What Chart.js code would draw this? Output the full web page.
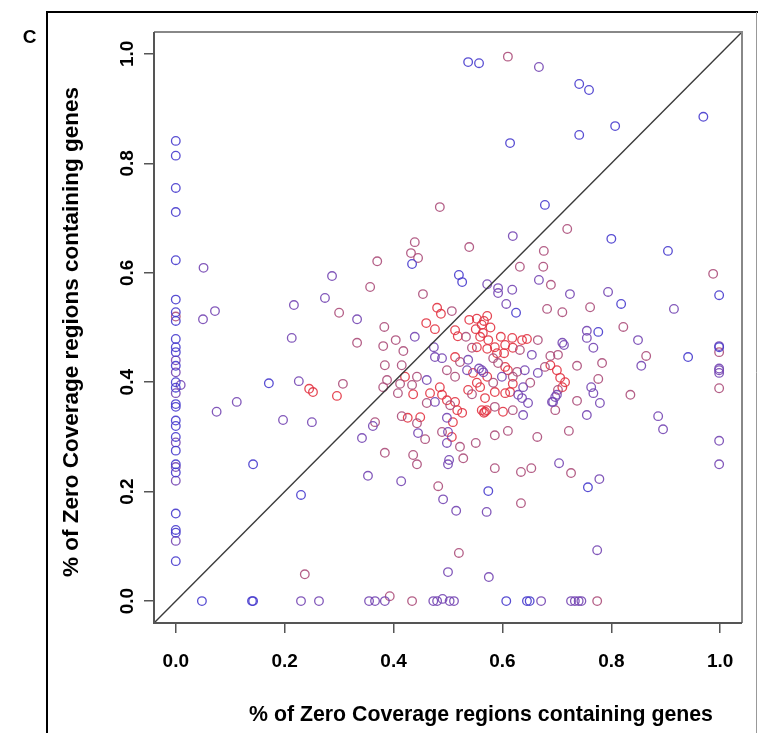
<!DOCTYPE html>
<html>
<head>
<title>Zero coverage regions containing genes</title>
<script src="https://cdn.jsdelivr.net/npm/chart.js"></script>
<style>
  html, body {margin:0; padding:0; background:#fff;}
  #wrap {width:758px; height:733px;}
</style>
</head>
<body>
<div id="wrap"><canvas id="myChart" width="758" height="733"></canvas></div>
<script>
// axis setup
var tickVals = [0, 0.2, 0.4, 0.6, 0.8, 1.0];
var axisMin = -0.04, axisMax = 1.04;
var panelLetter = 'C';
var xTitle = '% of Zero Coverage regions containing genes';
var yTitle = '% of Zero Coverage regions containing genes';

// points, grouped by colour shade (blue -> red)
var bluePts = [
  [0,0.841],[0,0.814],[0,0.755],[0,0.711],[0,0.623],[0,0.551],[0,0.528],[0,0.512],[0,0.479],[0,0.464],
  [0,0.455],[0,0.43],[0,0.40],[0,0.39],[0,0.36],[0,0.355],[0,0.33],[0,0.32],[0,0.30],[0,0.275],
  [0,0.25],[0,0.235],[0,0.16],[0,0.13],[0,0.125],[0,0.073],
  [0.537,0.985],[0.557,0.983],[0.741,0.945],[0.759,0.934],[0.969,0.885],[0.807,0.868],[0.741,0.852],
  [0.614,0.837],[0.678,0.724],[0.800,0.662],[0.904,0.640],[0.434,0.616],[0.998,0.559],[0.520,0.596],
  [0.526,0.583],[0.818,0.543],[0.998,0.464],[0.625,0.527],[0.776,0.492],[0.941,0.446],
  [0.171,0.398],[0.142,0.250],[0.230,0.194],
  [0.048,0],[0.14,0],[0.142,0],[0.607,0],[0.645,0],[0.65,0],
  [0.757,0.208],[0.574,0.201]
];
var violetPts = [
  [0,0.44],[0,0.418],[0,0.38],[0,0.29],[0,0.245],[0,0.22],[0,0.11],[0.009,0.395],
  [0.667,0.976],[0.619,0.667],[0.572,0.579],[0.592,0.572],[0.592,0.563],[0.618,0.569],[0.667,0.587],
  [0.724,0.561],[0.794,0.565],[0.915,0.534],[0.607,0.543],[0.755,0.494],[0.755,0.481],[0.849,0.477],
  [0.710,0.472],[0.713,0.468],[0.767,0.463],
  [0.051,0.609],[0.050,0.515],[0.072,0.530],[0.217,0.541],[0.213,0.481],[0.287,0.594],[0.274,0.554],
  [0.333,0.515],[0.075,0.346],[0.112,0.364],[0.226,0.402],[0.197,0.331],[0.250,0.327],[0.342,0.298],
  [0.362,0.320],[0.353,0.229],
  [0.23,0],[0.263,0],[0.355,0],[0.366,0],[0.384,0],[0.473,0],[0.48,0],[0.49,0.004],[0.503,0],[0.511,0],
  [0.671,0],[0.726,0],[0.733,0],[0.74,0],[0.745,0],[0.50,0.053],[0.575,0.044],[0.774,0.093],
  [0.998,0.425],[0.998,0.422],[0.998,0.417],[0.998,0.293],[0.998,0.250],[0.998,0.466],[0.855,0.430],
  [0.886,0.338],[0.895,0.314],[0.778,0.223],[0.704,0.252],[0.571,0.163],[0.515,0.165],[0.491,0.186],
  [0.500,0.250],[0.502,0.258],[0.414,0.219],[0.755,0.340],[0.779,0.362],[0.767,0.380],[0.763,0.391],
  [0.693,0.364],[0.700,0.377],
  [0.439,0.483],[0.474,0.464],[0.476,0.446],[0.489,0.444],[0.537,0.441],[0.535,0.422],[0.562,0.422],
  [0.557,0.425],[0.565,0.418],[0.461,0.404],[0.476,0.364],[0.498,0.335],[0.500,0.309],[0.498,0.289],
  [0.445,0.307],
  [0.654,0.450],[0.665,0.417],[0.641,0.422],[0.697,0.373],[0.691,0.364],[0.599,0.410],[0.638,0.391],
  [0.629,0.377],[0.636,0.371],[0.647,0.362],[0.638,0.340]
];
var mauvePts = [
  [0,0.52],[0.610,0.995],[0.485,0.720],[0.719,0.680],[0.539,0.647],[0.676,0.640],[0.439,0.656],
  [0.432,0.636],[0.445,0.627],[0.37,0.621],[0.632,0.611],[0.675,0.611],[0.987,0.598],[0.689,0.578],
  [0.454,0.561],[0.682,0.534],[0.710,0.528],[0.761,0.537],[0.507,0.530],[0.822,0.501],
  [0.300,0.527],[0.333,0.472],[0.357,0.574],[0.307,0.397],[0.366,0.327],
  [0.393,0.009],[0.434,0],[0.774,0],[0.237,0.049],[0.52,0.088],
  [0.998,0.389],[0.998,0.455],[0.864,0.448],[0.835,0.377],[0.726,0.234],[0.653,0.243],[0.634,0.236],
  [0.634,0.179],[0.586,0.243],[0.482,0.210],[0.384,0.271],[0.436,0.267],[0.443,0.250],[0.522,0.282],
  [0.528,0.261],[0.551,0.289],[0.586,0.303],[0.610,0.311],[0.664,0.300],[0.722,0.311],[0.737,0.366],
  [0.776,0.406],[0.702,0.386],[0.783,0.435],[0.737,0.430],
  [0.383,0.501],[0.404,0.477],[0.381,0.466],[0.418,0.457],[0.533,0.483],[0.544,0.463],[0.522,0.437],
  [0.498,0.422],[0.513,0.410],[0.544,0.378],[0.384,0.431],[0.415,0.431],[0.388,0.404],[0.412,0.397],
  [0.443,0.410],[0.381,0.391],[0.434,0.395],[0.408,0.380],[0.504,0.358],[0.461,0.362],[0.415,0.338],
  [0.443,0.325],[0.458,0.296],[0.489,0.309],
  [0.665,0.477],[0.688,0.448],[0.702,0.450],[0.678,0.428],[0.651,0.399],[0.697,0.349],[0.632,0.459],
  [0.583,0.444],[0.592,0.435],[0.619,0.410],[0.627,0.419],[0.583,0.399],[0.586,0.355],[0.619,0.349]
];
var redPts = [
  [0.48,0.536],[0.487,0.525],[0.245,0.388],[0.252,0.382],[0.296,0.375],
  [0.460,0.508],[0.476,0.497],[0.513,0.495],[0.518,0.484],[0.539,0.514],[0.553,0.516],[0.562,0.505],
  [0.572,0.521],[0.551,0.497],[0.564,0.490],[0.559,0.483],[0.574,0.477],[0.553,0.464],[0.572,0.461],
  [0.513,0.446],[0.546,0.417],[0.572,0.410],[0.553,0.399],[0.537,0.386],[0.559,0.391],[0.421,0.410],
  [0.436,0.378],[0.467,0.380],[0.485,0.391],[0.489,0.377],[0.498,0.367],[0.513,0.364],[0.517,0.349],
  [0.526,0.344],[0.509,0.327],[0.507,0.300],[0.426,0.335],[0.449,0.336],[0.562,0.349],[0.566,0.344],
  [0.566,0.512],[0.578,0.500],
  [0.688,0.431],[0.700,0.422],[0.706,0.408],[0.715,0.400],[0.710,0.391],[0.597,0.483],[0.618,0.481],
  [0.636,0.477],[0.645,0.479],[0.586,0.464],[0.605,0.468],[0.619,0.463],[0.603,0.453],[0.590,0.453],
  [0.605,0.428],[0.610,0.422],[0.586,0.382],[0.605,0.380],[0.614,0.382],[0.619,0.397],[0.568,0.371],
  [0.571,0.349],[0.601,0.346],[0.568,0.346]
];

var FONT = "'Liberation Sans', Arial, Helvetica, sans-serif";

function toXY(arr) {
  return arr.map(function (p) { return {x: p[0], y: p[1]}; });
}
function pointSet(label, arr, col) {
  return {
    label: label, data: toXY(arr),
    borderColor: col, backgroundColor: 'rgba(0,0,0,0)',
    pointRadius: 4.3, pointHoverRadius: 4.3, pointBorderWidth: 1.3
  };
}

// frame, panel letter, plot box and axis titles
var decor = {
  id: 'decor',
  beforeDraw: function (chart) {
    var ctx = chart.ctx;
    ctx.save();
    ctx.fillStyle = '#fff';
    ctx.fillRect(0, 0, chart.width, chart.height);
    ctx.restore();
  },
  afterDatasetsDraw: function (chart) {
    var ctx = chart.ctx, a = chart.chartArea;
    ctx.save();
    ctx.lineWidth = 2;
    ctx.strokeStyle = '#888';
    ctx.beginPath();
    ctx.moveTo(a.left, a.top); ctx.lineTo(a.right, a.top); ctx.lineTo(a.right, a.bottom);
    ctx.stroke();
    ctx.strokeStyle = '#555';
    ctx.beginPath();
    ctx.moveTo(a.left, a.top); ctx.lineTo(a.left, a.bottom); ctx.lineTo(a.right, a.bottom);
    ctx.stroke();
    ctx.restore();
  },
  afterDraw: function (chart) {
    var ctx = chart.ctx, a = chart.chartArea;
    ctx.save();
    // outer panel frame
    ctx.strokeStyle = '#000';
    ctx.lineWidth = 2;
    ctx.beginPath();
    ctx.moveTo(47, chart.height); ctx.lineTo(47, 12); ctx.lineTo(chart.width, 12);
    ctx.stroke();
    ctx.strokeStyle = '#999';
    ctx.lineWidth = 1;
    ctx.beginPath();
    ctx.moveTo(756.5, 12); ctx.lineTo(756.5, chart.height);
    ctx.stroke();
    // panel letter
    ctx.fillStyle = '#000';
    ctx.font = 'bold 19px ' + FONT;
    ctx.textAlign = 'center';
    ctx.textBaseline = 'alphabetic';
    ctx.fillText(panelLetter, 29.5, 43);
    // x title
    ctx.font = 'bold 19px ' + FONT;
    var w = ctx.measureText(xTitle).width;
    var fs = 19 * 463 / w;
    ctx.font = 'bold ' + fs.toFixed(1) + 'px ' + FONT;
    ctx.textAlign = 'center';
    ctx.textBaseline = 'alphabetic';
    ctx.fillText(xTitle, 481, 721);
    // y title
    ctx.font = 'bold 19px ' + FONT;
    w = ctx.measureText(yTitle).width;
    fs = 19 * 491 / w;
    ctx.font = 'bold ' + fs.toFixed(1) + 'px ' + FONT;
    ctx.translate(72, 332);
    ctx.rotate(-Math.PI / 2);
    ctx.textBaseline = 'middle';
    ctx.fillText(yTitle, 0, 0);
    ctx.restore();
  }
};

var tickFont = {family: FONT, size: 19, weight: 'bold'};

var ctx = document.getElementById('myChart').getContext('2d');
var myChart = new Chart(ctx, {
  type: 'scatter',
  data: {
    datasets: [
      {
        label: 'y = x', showLine: true,
        data: [axisMin, axisMax].map(function (v) { return {x: v, y: v}; }),
        borderColor: '#3a3a3a', borderWidth: 1.4, pointRadius: 0, fill: false
      },
      pointSet('blue', bluePts, 'rgba(70,58,205,0.9)'),
      pointSet('violet', violetPts, 'rgba(116,70,178,0.9)'),
      pointSet('mauve', mauvePts, 'rgba(172,78,122,0.9)'),
      pointSet('red', redPts, 'rgba(226,52,66,0.9)')
    ]
  },
  options: {
    responsive: false,
    animation: false,
    layout: {padding: {top: 32, right: 16, bottom: 0, left: 0}},
    plugins: {legend: {display: false}, tooltip: {enabled: false}},
    scales: {
      x: {
        type: 'linear', min: axisMin, max: axisMax,
        afterBuildTicks: function (s) { s.ticks = tickVals.map(function (v) { return {value: v}; }); },
        afterFit: function (s) { s.height = 110; },
        ticks: {
          font: tickFont, color: '#000', padding: 17, maxRotation: 0, autoSkip: false,
          callback: function (v) { return Number(v).toFixed(1); }
        },
        grid: {drawOnChartArea: false, tickLength: 10, color: '#555', lineWidth: 1.5},
        border: {display: false}
      },
      y: {
        type: 'linear', min: axisMin, max: axisMax,
        afterBuildTicks: function (s) { s.ticks = tickVals.map(function (v) { return {value: v}; }); },
        afterFit: function (s) { s.width = 154; },
        ticks: {
          font: tickFont, color: '#000', padding: 3, minRotation: 90, maxRotation: 90,
          crossAlign: 'center', autoSkip: false,
          callback: function (v) { return Number(v).toFixed(1); }
        },
        grid: {drawOnChartArea: false, tickLength: 10, color: '#555', lineWidth: 1.5},
        border: {display: false}
      }
    }
  },
  plugins: [decor]
});
</script>
</body>
</html>
